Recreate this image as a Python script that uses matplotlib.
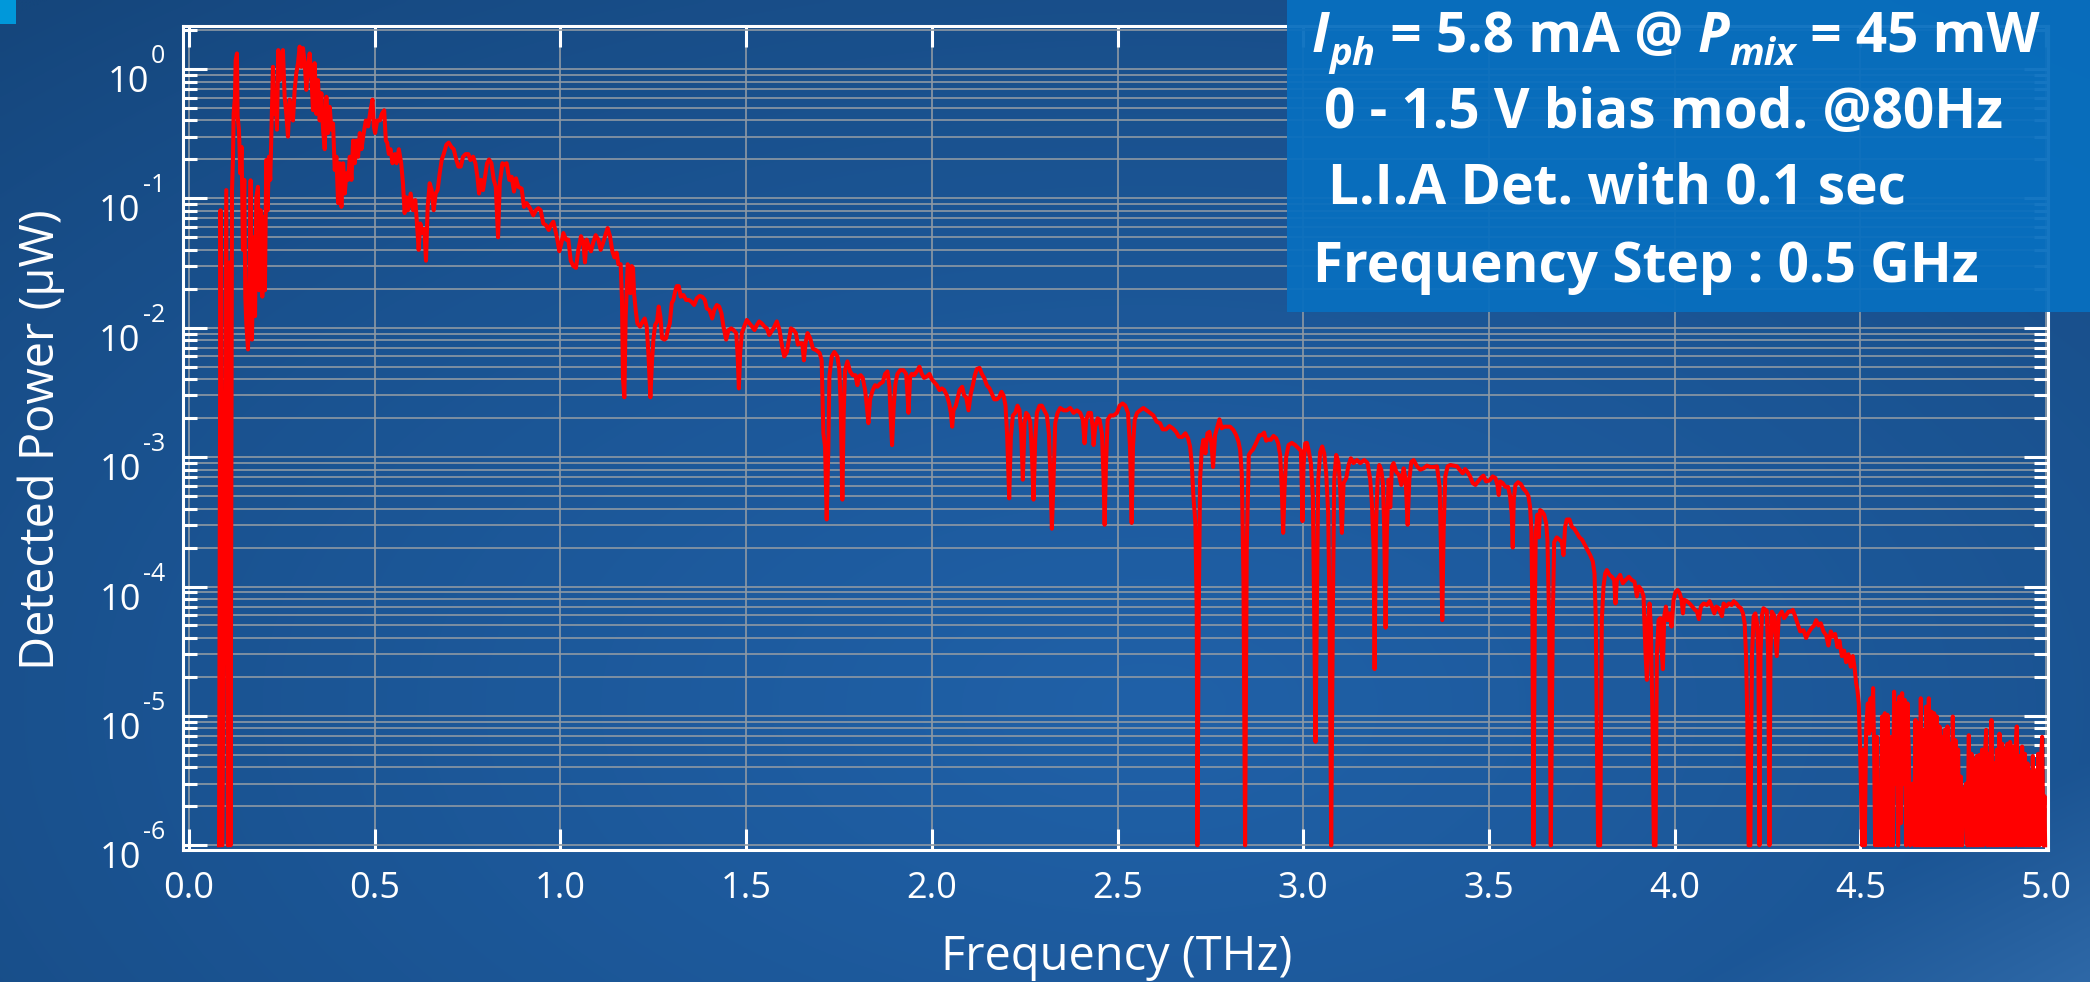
import numpy as np
import matplotlib
matplotlib.use("Agg")
import matplotlib.pyplot as plt
from matplotlib.ticker import LogLocator, FixedLocator, FuncFormatter, NullFormatter
from matplotlib.patches import Rectangle
from matplotlib.transforms import offset_copy
from matplotlib import font_manager

# ---------------- data: (frequency THz, detected power uW) ----------------
seg_low = [
(0.081, 1.0e-6), (0.085, 8.1e-2), (0.090, 1.0e-6), (0.1005, 1.16e-1), (0.105, 1.0e-6),
(0.1095, 3.2e-2), (0.112, 1.0e-6), (0.116, 1.16e-1), (0.1185, 2.0e-1), (0.1203, 4.5e-1),
(0.1239, 6.1e-1), (0.1257, 1.17), (0.1293, 1.32), (0.131, 4.3e-1), (0.1346, 3.4e-1),
(0.1382, 1.56e-1), (0.1418, 2.5e-1), (0.1454, 4.0e-2), (0.149, 1.39e-1), (0.1517, 1.74e-2),
(0.1544, 1.08e-2), (0.159, 6.8e-3), (0.1634, 3.2e-2), (0.166, 1.38e-1), (0.1697, 8.1e-3),
(0.174, 5.0e-2), (0.178, 1.23e-2), (0.1813, 1.02e-1), (0.1858, 1.23e-1), (0.1885, 1.95e-2),
(0.193, 8.1e-2), (0.1975, 1.74e-2), (0.201, 7.2e-2), (0.2046, 1.95e-2), (0.2082, 1.98e-1),
(0.2118, 8.1e-2), (0.2154, 2.1e-1), (0.219, 1.39e-1), (0.2226, 3.8e-1), (0.2262, 1.04),
(0.2298, 4.5e-1), (0.2334, 6.1e-1), (0.237, 3.4e-1), (0.2405, 1.40), (0.2441, 8.2e-1),
(0.2486, 1.17), (0.2531, 1.40), (0.2576, 6.1e-1), (0.2621, 4.5e-1), (0.2666, 3.0e-1),
(0.2711, 5.8e-1), (0.2756, 4.8e-1), (0.2801, 4.0e-1), (0.2846, 6.9e-1), (0.2891, 9.3e-1),
(0.2936, 1.11), (0.2981, 1.49), (0.3026, 1.04), (0.3071, 1.45), (0.3116, 1.11),
(0.316, 6.9e-1), (0.3205, 1.04), (0.325, 1.32), (0.3295, 8.7e-1), (0.334, 4.8e-1),
(0.3385, 1.11), (0.343, 4.5e-1), (0.3475, 8.2e-1), (0.352, 4.0e-1), (0.3565, 6.5e-1),
(0.361, 3.4e-1), (0.3655, 2.4e-1), (0.370, 6.1e-1), (0.3745, 3.2e-1), (0.379, 5.1e-1),
(0.3835, 3.4e-1), (0.388, 3.8e-1), (0.3925, 1.66e-1), (0.397, 2.1e-1), (0.4015, 9.2e-2),
(0.406, 1.87e-1), (0.4105, 8.6e-2), (0.415, 1.87e-1), (0.4195, 1.09e-1), (0.424, 1.56e-1),
(0.4285, 1.39e-1), (0.433, 2.1e-1), (0.4375, 1.39e-1), (0.442, 2.8e-1), (0.4465, 1.87e-1),
(0.451, 2.8e-1), (0.4555, 2.1e-1), (0.460, 3.2e-1), (0.4645, 2.4e-1), (0.469, 3.0e-1),
(0.4762, 4.0e-1), (0.4825, 3.6e-1), (0.4888, 4.8e-1), (0.4942, 5.8e-1), (0.4978, 3.6e-1),
(0.5013, 3.2e-1), (0.5067, 4.0e-1), (0.5139, 4.0e-1), (0.5193, 4.5e-1), (0.5256, 4.8e-1),
(0.5301, 2.8e-1), (0.5337, 2.7e-1), (0.5382, 2.2e-1), (0.5427, 2.4e-1), (0.548, 1.87e-1),
(0.5543, 2.2e-1), (0.5588, 1.87e-1), (0.5651, 2.4e-1), (0.5714, 1.87e-1), (0.5762, 1.31e-1),
(0.5807, 7.7e-2), (0.5852, 1.02e-1), (0.5897, 8.1e-2), (0.5969, 1.09e-1), (0.6031, 8.1e-2),
(0.6094, 9.7e-2), (0.6139, 6.4e-2), (0.6184, 4.0e-2), (0.6229, 6.4e-2), (0.6283, 5.4e-2),
(0.6337, 5.8e-2), (0.6382, 3.3e-2), (0.6427, 8.6e-2), (0.6481, 1.31e-1), (0.6535, 1.16e-1),
(0.6589, 8.1e-2), (0.6642, 1.09e-1), (0.6696, 1.16e-1), (0.675, 1.56e-1), (0.6804, 1.98e-1),
(0.6858, 2.2e-1), (0.693, 2.6e-1), (0.6993, 2.7e-1), (0.7065, 2.5e-1), (0.7128, 2.4e-1),
(0.720, 1.98e-1), (0.7254, 1.76e-1), (0.7317, 1.76e-1), (0.738, 2.1e-1), (0.7451, 2.2e-1),
(0.7523, 2.2e-1), (0.7577, 1.98e-1), (0.7649, 2.1e-1), (0.7712, 1.87e-1), (0.7766, 1.47e-1),
(0.7811, 1.09e-1), (0.7865, 1.39e-1), (0.7918, 1.16e-1), (0.7972, 1.47e-1), (0.8026, 1.87e-1),
(0.808, 2.0e-1), (0.8143, 1.87e-1), (0.8206, 1.39e-1), (0.826, 1.23e-1), (0.8322, 5.0e-2),
(0.8368, 1.31e-1), (0.844, 1.87e-1),
]

seg_mid1 = [
(0.8464, 1.81e-1), (0.8553, 1.87e-1), (0.8625, 1.39e-1), (0.8688, 1.47e-1), (0.8751, 1.13e-1),
(0.8805, 1.43e-1), (0.8867, 1.23e-1), (0.8957, 1.19e-1), (0.902, 8.6e-2), (0.9092, 9.2e-2),
(0.9182, 8.4e-2), (0.9271, 7.4e-2), (0.9343, 8.1e-2), (0.9406, 8.4e-2), (0.9469, 8.1e-2),
(0.954, 6.4e-2), (0.9613, 6.2e-2), (0.9685, 5.7e-2), (0.9739, 6.2e-2), (0.981, 6.6e-2),
(0.9882, 5.4e-2), (0.9918, 4.8e-2), (0.9972, 3.9e-2), (1.0026, 4.5e-2), (1.008, 5.4e-2),
(1.0152, 4.8e-2), (1.0215, 4.8e-2), (1.0278, 3.3e-2), (1.0348, 3.0e-2), (1.042, 2.9e-2),
(1.0483, 4.0e-2), (1.0555, 5.1e-2), (1.0617, 4.5e-2), (1.0662, 3.2e-2), (1.0707, 4.8e-2),
(1.077, 4.2e-2), (1.0824, 3.9e-2), (1.0887, 4.6e-2), (1.095, 5.2e-2), (1.1023, 4.8e-2),
(1.1085, 4.0e-2), (1.1156, 4.6e-2), (1.1228, 5.4e-2), (1.1273, 5.9e-2), (1.1336, 5.1e-2),
(1.1399, 3.9e-2), (1.1453, 3.5e-2), (1.1515, 3.8e-2), (1.156, 3.1e-2), (1.1623, 3.1e-2),
(1.1659, 1.64e-2), (1.1686, 4.0e-3), (1.1722, 2.9e-3), (1.1758, 1.22e-2), (1.1812, 3.1e-2),
(1.1848, 2.8e-2), (1.1884, 1.85e-2), (1.192, 3.0e-2), (1.1956, 2.9e-2), (1.1983, 1.85e-2),
(1.2028, 1.37e-2), (1.2073, 1.08e-2), (1.2145, 1.02e-2), (1.2216, 1.12e-2), (1.227, 1.18e-2),
(1.2324, 1.02e-2), (1.2369, 6.4e-3), (1.2423, 2.9e-3), (1.2468, 5.6e-3), (1.2504, 8.1e-3),
(1.2549, 1.05e-2), (1.2603, 1.12e-2), (1.2648, 1.46e-2), (1.2693, 1.22e-2), (1.2738, 8.3e-3),
(1.2801, 8.1e-3), (1.2846, 8.3e-3), (1.2891, 9.6e-3), (1.2945, 1.08e-2), (1.2998, 1.55e-2),
(1.3043, 1.64e-2), (1.3088, 1.90e-2), (1.3133, 2.1e-2), (1.3187, 2.1e-2), (1.3241, 1.74e-2),
(1.3313, 1.79e-2), (1.3385, 1.64e-2), (1.3457, 1.64e-2), (1.3529, 1.59e-2), (1.3601, 1.50e-2),
(1.3673, 1.69e-2), (1.3745, 1.76e-2), (1.3816, 1.74e-2), (1.3888, 1.64e-2), (1.3942, 1.41e-2),
(1.4014, 1.37e-2), (1.4086, 1.18e-2), (1.414, 1.37e-2), (1.4212, 1.50e-2), (1.4275, 1.46e-2),
(1.4337, 1.29e-2), (1.4391, 1.02e-2), (1.4463, 8.1e-3), (1.4526, 9.6e-3), (1.4598, 9.9e-3),
(1.4661, 9.6e-3), (1.4733, 9.1e-3), (1.4769, 6.4e-3), (1.4805, 3.4e-3), (1.4841, 6.4e-3),
(1.4886, 9.1e-3), (1.4948, 1.02e-2), (1.502, 1.15e-2), (1.5092, 1.08e-2), (1.5164, 1.02e-2),
(1.5226, 9.6e-3), (1.5289, 1.05e-2), (1.5352, 1.12e-2), (1.5424, 1.08e-2), (1.5496, 1.02e-2),
(1.5559, 9.9e-3), (1.5622, 8.8e-3), (1.5676, 9.3e-3), (1.5738, 9.9e-3), (1.5828, 1.12e-2),
(1.590, 9.6e-3), (1.5972, 7.1e-3), (1.6026, 6.0e-3), (1.6098, 6.5e-3), (1.6152, 8.1e-3),
(1.6205, 9.9e-3), (1.6277, 9.6e-3), (1.634, 9.1e-3), (1.6394, 7.4e-3), (1.6457, 7.6e-3),
(1.6511, 7.6e-3), (1.6556, 5.6e-3), (1.660, 7.6e-3), (1.6654, 9.1e-3), (1.6726, 8.3e-3),
(1.6798, 6.9e-3), (1.6888, 6.7e-3), (1.6978, 6.4e-3),
]

seg_mid2 = [
(1.7035, 5.6e-3), (1.708, 1.53e-3), (1.7125, 1.21e-3), (1.717, 3.3e-4), (1.7215, 1.21e-3),
(1.7242, 4.2e-3), (1.7305, 6.0e-3), (1.7376, 6.5e-3), (1.7457, 6.0e-3), (1.7511, 4.7e-3),
(1.7547, 2.5e-3), (1.7592, 4.7e-4), (1.7628, 2.2e-3), (1.7664, 4.7e-3), (1.7727, 5.5e-3),
(1.7799, 4.6e-3), (1.787, 4.3e-3), (1.7942, 4.3e-3), (1.7996, 3.6e-3), (1.8032, 4.2e-3),
(1.8086, 4.3e-3), (1.814, 4.1e-3), (1.8203, 3.3e-3), (1.8248, 2.5e-3), (1.8293, 1.83e-3),
(1.8338, 2.8e-3), (1.841, 3.3e-3), (1.8473, 3.6e-3), (1.8535, 3.5e-3), (1.8607, 3.7e-3),
(1.8679, 3.8e-3), (1.8742, 4.4e-3), (1.8805, 4.6e-3), (1.8859, 3.5e-3), (1.8895, 1.94e-3),
(1.893, 1.24e-3), (1.8975, 2.5e-3), (1.902, 3.7e-3), (1.9074, 4.4e-3), (1.9146, 4.7e-3),
(1.9236, 4.7e-3), (1.9308, 4.4e-3), (1.9344, 3.1e-3), (1.9371, 2.2e-3), (1.9416, 4.2e-3),
(1.9461, 4.4e-3), (1.9524, 4.3e-3), (1.9595, 4.6e-3), (1.9667, 5.0e-3), (1.973, 4.4e-3),
(1.9793, 4.1e-3), (1.9865, 4.2e-3), (1.9937, 4.4e-3), (2.000, 4.0e-3), (2.0063, 3.8e-3),
(2.0135, 3.6e-3), (2.0207, 3.3e-3), (2.027, 3.4e-3), (2.0333, 3.3e-3), (2.0404, 3.0e-3),
(2.0467, 2.6e-3), (2.0512, 2.2e-3), (2.0548, 1.72e-3), (2.0584, 2.3e-3), (2.0647, 2.5e-3),
(2.0701, 2.9e-3), (2.0746, 3.3e-3), (2.0817, 3.5e-3), (2.0871, 3.0e-3), (2.0925, 2.9e-3),
(2.0987, 2.3e-3), (2.105, 3.1e-3), (2.1104, 3.6e-3), (2.1158, 4.3e-3), (2.1212, 4.8e-3),
(2.1284, 4.9e-3), (2.1347, 4.4e-3), (2.1409, 4.1e-3), (2.1481, 3.6e-3), (2.1553, 3.4e-3),
(2.1616, 3.1e-3), (2.1679, 2.8e-3), (2.1751, 2.8e-3), (2.1814, 2.9e-3), (2.1876, 3.2e-3),
(2.193, 3.0e-3), (2.1984, 2.5e-3), (2.2029, 1.44e-3), (2.2083, 4.8e-4), (2.2128, 1.44e-3),
(2.2182, 2.1e-3), (2.2245, 2.2e-3), (2.2307, 2.5e-3), (2.2361, 2.3e-3), (2.2406, 1.53e-3),
(2.2451, 6.7e-4), (2.2496, 1.83e-3), (2.2541, 2.2e-3), (2.2595, 2.1e-3), (2.2649, 1.88e-3),
(2.2694, 1.07e-3), (2.2738, 4.7e-4), (2.2783, 1.36e-3), (2.2828, 2.2e-3), (2.290, 2.5e-3),
(2.2963, 2.5e-3), (2.3026, 2.3e-3), (2.3098, 2.1e-3), (2.3152, 1.53e-3), (2.3196, 6.7e-4),
(2.3232, 2.8e-4), (2.3277, 6.7e-4), (2.3322, 1.83e-3), (2.3385, 2.2e-3), (2.3457, 2.4e-3),
(2.3547, 2.3e-3), (2.3636, 2.3e-3), (2.3726, 2.4e-3), (2.3816, 2.2e-3), (2.3906, 2.3e-3),
(2.3995, 2.2e-3), (2.4067, 1.94e-3), (2.4112, 1.28e-3), (2.4157, 1.94e-3), (2.422, 2.2e-3),
(2.4283, 2.2e-3), (2.4328, 1.72e-3), (2.4355, 1.24e-3), (2.440, 1.72e-3), (2.4463, 2.0e-3),
(2.4517, 1.94e-3), (2.458, 1.53e-3), (2.4625, 6.7e-4), (2.4652, 3.0e-4), (2.4688, 8.5e-4),
(2.4733, 1.94e-3), (2.4805, 2.1e-3), (2.4895, 2.1e-3), (2.4984, 2.2e-3), (2.5056, 2.5e-3),
(2.5137, 2.6e-3), (2.5209, 2.5e-3), (2.5281, 2.2e-3), (2.5335, 1.21e-3), (2.538, 3.1e-4),
(2.5416, 1.21e-3), (2.5461, 1.94e-3), (2.5524, 2.2e-3),
]

seg_high1 = [
(2.5606, 2.3e-3), (2.5695, 2.4e-3), (2.5785, 2.3e-3), (2.5875, 2.2e-3), (2.5965, 2.1e-3),
(2.6054, 1.88e-3), (2.6144, 1.83e-3), (2.6216, 1.64e-3), (2.6306, 1.64e-3), (2.6395, 1.74e-3),
(2.6485, 1.67e-3), (2.6575, 1.57e-3), (2.6647, 1.44e-3), (2.6736, 1.43e-3), (2.6826, 1.53e-3),
(2.6898, 1.40e-3), (2.6952, 1.21e-3), (2.6997, 9.0e-4), (2.7042, 5.0e-4), (2.7096, 3.1e-4),
(2.7132, 6.2e-5), (2.715, 1.0e-6), (2.7186, 6.3e-5), (2.7222, 6.7e-4), (2.7267, 1.14e-3),
(2.7312, 1.36e-3), (2.7366, 1.07e-3), (2.742, 1.53e-3), (2.7474, 1.57e-3), (2.7527, 1.28e-3),
(2.7572, 8.4e-4), (2.7626, 1.48e-3), (2.7689, 1.72e-3), (2.7743, 1.96e-3), (2.7806, 1.67e-3),
(2.7869, 1.72e-3), (2.7941, 1.72e-3), (2.803, 1.72e-3), (2.812, 1.62e-3), (2.8192, 1.48e-3),
(2.8255, 1.32e-3), (2.830, 1.14e-3), (2.8345, 7.5e-4), (2.839, 1.12e-4), (2.8434, 1.0e-6),
(2.8479, 2.0e-4), (2.8533, 1.04e-3), (2.8587, 1.10e-3), (2.8641, 1.14e-3), (2.8704, 1.24e-3),
(2.8767, 1.36e-3), (2.8821, 1.48e-3), (2.8883, 1.48e-3), (2.8946, 1.55e-3), (2.900, 1.34e-3),
(2.9063, 1.37e-3), (2.9126, 1.36e-3), (2.9198, 1.46e-3), (2.927, 1.40e-3), (2.9324, 1.28e-3),
(2.9378, 1.04e-3), (2.9423, 5.6e-4), (2.9459, 2.6e-4), (2.9495, 5.6e-4), (2.954, 1.0e-3),
(2.9603, 1.24e-3), (2.9693, 1.29e-3), (2.9782, 1.24e-3), (2.9872, 1.17e-3), (2.9935, 1.12e-3),
(2.9962, 5.6e-4), (2.998, 3.2e-4), (3.0007, 8.5e-4), (3.0052, 1.28e-3), (3.0097, 1.29e-3),
(3.0142, 1.14e-3), (3.0205, 9.0e-4), (3.0258, 5.0e-4), (3.0294, 6.2e-5), (3.033, 6.3e-6),
(3.0366, 6.2e-5), (3.0402, 6.7e-4), (3.0456, 1.10e-3), (3.051, 1.21e-3), (3.0564, 1.07e-3),
(3.0617, 7.5e-4), (3.0671, 3.7e-4), (3.0707, 6.2e-5), (3.0752, 1.0e-6), (3.0797, 6.3e-5),
(3.0833, 6.7e-4), (3.0887, 1.04e-3), (3.095, 9.0e-4), (3.0995, 5.6e-4), (3.104, 2.6e-4),
(3.1085, 6.3e-4), (3.1157, 6.9e-4), (3.1219, 8.7e-4), (3.1282, 9.8e-4), (3.1354, 9.0e-4),
(3.1444, 9.5e-4), (3.1534, 9.0e-4), (3.1641, 9.5e-4), (3.1731, 9.0e-4), (3.1803, 6.7e-4),
(3.1848, 4.4e-4), (3.1893, 2.0e-4), (3.192, 2.3e-5), (3.1956, 2.7e-4), (3.2001, 6.7e-4),
(3.2046, 8.7e-4), (3.210, 8.0e-4), (3.2145, 6.3e-4), (3.218, 2.7e-4), (3.2216, 4.8e-5),
(3.2252, 2.7e-4), (3.2297, 6.7e-4), (3.2342, 4.1e-4), (3.2387, 8.5e-4), (3.2432, 9.0e-4),
(3.2504, 7.7e-4), (3.2576, 7.3e-4), (3.2639, 6.1e-4), (3.2702, 8.2e-4), (3.2756, 6.7e-4),
(3.281, 3.0e-4), (3.2855, 6.7e-4), (3.2908, 9.2e-4), (3.2971, 9.5e-4), (3.3061, 8.5e-4),
(3.3151, 8.0e-4), (3.3241, 8.2e-4), (3.333, 8.6e-4), (3.342, 8.4e-4), (3.351, 8.4e-4),
(3.360, 8.5e-4), (3.3671, 5.9e-4), (3.3707, 2.0e-4), (3.3743, 5.5e-5), (3.3779, 2.7e-4),
(3.3824, 7.1e-4), (3.3887, 8.5e-4), (3.3959, 8.7e-4), (3.4048, 8.6e-4), (3.4138, 8.5e-4),
(3.421, 8.0e-4),
]

seg_high2 = [
(3.4293, 7.5e-4), (3.4356, 8.1e-4), (3.4419, 7.7e-4), (3.4491, 7.1e-4), (3.4563, 6.3e-4),
(3.4635, 6.1e-4), (3.4706, 6.5e-4), (3.4778, 6.9e-4), (3.485, 7.2e-4), (3.4922, 6.5e-4),
(3.5011, 6.6e-4), (3.5101, 7.1e-4), (3.5173, 6.9e-4), (3.5227, 6.1e-4), (3.5263, 5.1e-4),
(3.5299, 6.5e-4), (3.537, 6.3e-4), (3.5442, 5.9e-4), (3.5514, 5.9e-4), (3.5568, 5.0e-4),
(3.5613, 3.6e-4), (3.564, 2.0e-4), (3.5667, 4.7e-4), (3.5712, 6.1e-4), (3.5783, 6.4e-4),
(3.5855, 6.2e-4), (3.5927, 5.7e-4), (3.5999, 5.4e-4), (3.6062, 5.0e-4), (3.6107, 4.1e-4),
(3.6143, 2.7e-4), (3.617, 5.5e-5), (3.6197, 1.0e-6), (3.6233, 5.5e-5), (3.626, 2.6e-4),
(3.6304, 3.6e-4), (3.634, 2.4e-4), (3.6376, 3.9e-4), (3.643, 3.8e-4), (3.6484, 3.6e-4),
(3.6538, 3.1e-4), (3.6574, 2.3e-4), (3.6619, 5.5e-5), (3.6664, 1.0e-6), (3.6718, 5.5e-5),
(3.6754, 2.2e-4), (3.6826, 2.4e-4), (3.6897, 2.3e-4), (3.696, 2.2e-4), (3.7005, 1.75e-4),
(3.705, 2.9e-4), (3.7095, 3.3e-4), (3.7167, 3.3e-4), (3.723, 2.9e-4), (3.7293, 2.8e-4),
(3.7365, 2.6e-4), (3.7436, 2.4e-4), (3.7508, 2.3e-4), (3.758, 2.1e-4), (3.7652, 1.91e-4),
(3.7724, 1.75e-4), (3.7796, 1.56e-4), (3.7841, 1.26e-4), (3.7876, 5.5e-5), (3.7903, 7.3e-6),
(3.7939, 1.0e-6), (3.7993, 1.0e-6), (3.8038, 5.5e-5), (3.8083, 1.0e-4), (3.8128, 1.26e-4),
(3.8173, 1.34e-4), (3.8245, 1.23e-4), (3.8308, 1.19e-4), (3.837, 1.12e-4), (3.8406, 7.4e-5),
(3.8442, 1.12e-4), (3.8532, 1.23e-4), (3.8604, 1.06e-4), (3.8676, 1.12e-4), (3.8766, 1.19e-4),
(3.8846, 1.12e-4), (3.8918, 1.09e-4), (3.8981, 8.4e-5), (3.9035, 1.0e-4), (3.9107, 9.4e-5),
(3.9161, 8.4e-5), (3.9215, 3.0e-5), (3.9251, 1.9e-5), (3.9287, 5.5e-5), (3.9323, 7.4e-5),
(3.9358, 4.9e-5), (3.9403, 9.3e-6), (3.9439, 1.0e-6), (3.9484, 1.0e-6), (3.952, 3.0e-5),
(3.9565, 5.5e-5), (3.961, 5.7e-5), (3.9655, 3.0e-5), (3.9682, 2.3e-5), (3.9718, 5.9e-5),
(3.9763, 7.0e-5), (3.9808, 5.5e-5), (3.9862, 6.2e-5), (3.9916, 4.9e-5), (3.9969, 7.9e-5),
(4.0023, 9.1e-5), (4.0077, 9.4e-5), (4.0131, 8.9e-5), (4.0185, 7.9e-5), (4.0221, 6.2e-5),
(4.0257, 7.9e-5), (4.0329, 7.7e-5), (4.0401, 7.4e-5), (4.0473, 7.0e-5), (4.0545, 6.6e-5),
(4.0599, 6.4e-5), (4.0652, 5.6e-5), (4.0706, 7.0e-5), (4.0778, 7.4e-5), (4.0868, 7.2e-5),
(4.094, 7.7e-5), (4.1003, 7.0e-5), (4.1066, 6.2e-5), (4.112, 7.0e-5), (4.1183, 6.8e-5),
(4.1272, 5.9e-5), (4.1317, 7.4e-5), (4.1389, 7.0e-5), (4.1461, 7.4e-5), (4.1533, 7.2e-5),
(4.1587, 7.7e-5), (4.1659, 7.4e-5), (4.1722, 7.0e-5), (4.1784, 6.8e-5), (4.1838, 6.2e-5),
(4.1883, 5.2e-5), (4.1919, 3.0e-5), (4.1955, 9.3e-6), (4.1991, 1.0e-6), (4.2036, 1.0e-6),
(4.2081, 3.0e-5), (4.2126, 5.9e-5), (4.2171, 6.2e-5), (4.2216, 5.2e-5), (4.2252, 3.0e-5),
(4.2282, 1.0e-6), (4.2310, 3.0e-5), (4.2350, 6.0e-5), (4.2389, 6.8e-5), (4.2479, 6.5e-5),
(4.2515, 3.0e-5), (4.2551, 1.0e-6), (4.2578, 3.0e-5), (4.2614, 6.4e-5), (4.2676, 6.0e-5),
(4.2748, 2.9e-5), (4.2802, 5.9e-5), (4.2883, 6.4e-5), (4.2946, 5.7e-5), (4.300, 6.0e-5),
(4.3063, 6.4e-5), (4.3125, 6.4e-5), (4.3179, 6.6e-5), (4.3242, 5.9e-5), (4.3305, 5.2e-5),
(4.3377, 4.5e-5), (4.3466, 4.6e-5), (4.3538, 4.0e-5), (4.3601, 4.4e-5), (4.3691, 4.8e-5),
(4.3754, 5.0e-5), (4.3807, 5.5e-5), (4.387, 5.0e-5), (4.3933, 5.2e-5), (4.4005, 4.5e-5),
(4.4077, 4.2e-5), (4.4139, 3.5e-5), (4.4202, 4.5e-5), (4.4256, 4.1e-5), (4.4319, 4.3e-5),
(4.4382, 3.4e-5), (4.4436, 3.8e-5), (4.4498, 2.9e-5), (4.4561, 3.2e-5), (4.4615, 2.6e-5),
(4.4678, 3.0e-5), (4.4741, 2.4e-5), (4.4795, 2.9e-5), (4.484, 2.4e-5), (4.4884, 1.8e-5),
(4.492, 1.58e-5), (4.4956, 1.25e-5), (4.4992, 5.5e-6),
]

seg_tail = [
(4.5019, 2.4e-6), (4.5046, 1.0e-6), (4.5082, 5.5e-6), (4.5117, 1.0e-6), (4.5153, 7.8e-6),
(4.5198, 1.25e-5), (4.5234, 7.3e-6), (4.527, 1.37e-5), (4.5306, 7.8e-6), (4.5342, 1.64e-5),
(4.5369, 5.5e-6), (4.5396, 1.0e-6), (4.5441, 6.9e-6), (4.5477, 1.0e-6), (4.5513, 1.9e-6),
(4.5549, 1.0e-6), (4.5584, 9.9e-6), (4.562, 1.0e-6), (4.5656, 1.05e-5), (4.5692, 1.0e-6),
(4.5728, 1.02e-5), (4.5764, 3.8e-6), (4.580, 1.0e-6), (4.5836, 6.9e-6), (4.5872, 1.0e-6),
(4.5907, 1.54e-5), (4.5943, 3.0e-6), (4.5979, 1.25e-5), (4.6015, 1.0e-6), (4.6051, 1.41e-5),
(4.6087, 1.48e-6), (4.6123, 1.5e-5), (4.6159, 3.0e-6), (4.6195, 1.33e-5), (4.6231, 1.0e-6),
(4.6267, 1.25e-5), (4.6302, 5.5e-6), (4.6338, 1.0e-6), (4.641, 3.0e-6), (4.6446, 1.0e-6),
(4.6482, 9.3e-6), (4.6518, 1.0e-6), (4.6554, 8.8e-6), (4.659, 1.0e-6), (4.6625, 1.37e-5),
(4.6661, 1.0e-6), (4.6697, 7.8e-6), (4.6733, 1.0e-6), (4.6769, 1.18e-5), (4.6805, 1.0e-6),
(4.6841, 1.37e-5), (4.6877, 1.0e-6), (4.6913, 1.08e-5), (4.6949, 1.0e-6), (4.6985, 1.05e-5),
(4.702, 1.0e-6), (4.7056, 9.9e-6), (4.7092, 1.0e-6), (4.7128, 8.3e-6), (4.7164, 1.0e-6),
(4.720, 6.9e-6), (4.7236, 1.0e-6), (4.7272, 7.8e-6), (4.7308, 1.0e-6), (4.7344, 8.3e-6),
(4.738, 1.0e-6), (4.7415, 6.1e-6), (4.7451, 1.0e-6), (4.7487, 9.9e-6), (4.7523, 1.0e-6),
(4.7559, 6.5e-6), (4.7595, 1.0e-6), (4.7631, 5.5e-6), (4.7667, 1.0e-6), (4.7703, 3.4e-6),
(4.7739, 1.0e-6), (4.781, 2.7e-6), (4.7846, 3.0e-6), (4.7882, 1.0e-6), (4.7918, 7.1e-6),
(4.7954, 1.0e-6), (4.799, 5.1e-6), (4.8026, 1.0e-6), (4.8062, 4.6e-6), (4.8098, 1.0e-6),
(4.8133, 4.9e-6), (4.8169, 1.0e-6), (4.8205, 5.0e-6), (4.8241, 1.0e-6), (4.8277, 5.5e-6),
(4.8313, 1.0e-6), (4.8349, 4.7e-6), (4.8385, 7.8e-6), (4.8421, 1.0e-6), (4.8457, 5.1e-6),
(4.8493, 1.0e-6), (4.8528, 9.3e-6), (4.8564, 1.0e-6), (4.860, 4.3e-6), (4.8636, 1.0e-6),
(4.8672, 5.5e-6), (4.8708, 1.0e-6), (4.8744, 7.3e-6), (4.878, 1.0e-6), (4.8816, 6.1e-6),
(4.8851, 1.0e-6), (4.8887, 5.5e-6), (4.8923, 1.0e-6), (4.8959, 6.1e-6), (4.8995, 1.0e-6),
(4.9031, 6.3e-6), (4.9067, 1.0e-6), (4.9103, 5.8e-6), (4.9139, 1.0e-6), (4.9175, 5.5e-6),
(4.921, 8.3e-6), (4.9246, 1.0e-6), (4.9282, 4.9e-6), (4.9318, 1.0e-6), (4.9354, 5.8e-6),
(4.939, 1.0e-6), (4.9426, 5.1e-6), (4.9462, 1.0e-6), (4.9498, 4.3e-6), (4.9534, 1.0e-6),
(4.957, 3.7e-6), (4.9605, 1.0e-6), (4.9641, 4.9e-6), (4.9677, 1.0e-6), (4.9713, 3.8e-6),
(4.9749, 1.0e-6), (4.9785, 5.1e-6), (4.9821, 1.0e-6), (4.9857, 4.3e-6), (4.9893, 6.9e-6),
(4.9928, 1.0e-6), (4.9955, 2.4e-6), (4.9973, 1.0e-6),
]

x_ticks = [0.0, 0.5, 1.0, 1.5, 2.0, 2.5, 3.0, 3.5, 4.0, 4.5, 5.0]
y_decades = [-6, -5, -4, -3, -2, -1, 0]
x_label = "Frequency (THz)"
y_label = "Detected Power (\u03bcW)"
info_lines = ["0 - 1.5 V bias mod. @80Hz", "L.I.A Det. with 0.1 sec", "Frequency Step : 0.5 GHz"]

# ---------------- style ----------------
plt.rcParams['font.family'] = ['Lato', 'DejaVu Sans']

W, H = 2090, 982
fig = plt.figure(figsize=(W / 100, H / 100), dpi=100)
renderer = fig.canvas.get_renderer()

try:
    font_manager.findfont(font_manager.FontProperties(family='Open Sans', weight='bold'),
                          fallback_to_default=False)
    BOX_FAM = 'Open Sans'
except Exception:
    BOX_FAM = 'Lato'
try:
    pi = font_manager.findfont(font_manager.FontProperties(family=BOX_FAM, style='italic', weight='bold'),
                               fallback_to_default=False)
    ITAL_FAM = BOX_FAM if 'talic' in pi else 'Lato'
except Exception:
    ITAL_FAM = 'Lato'
TICK_FAM = BOX_FAM

# background gradient
bg = fig.add_axes([0, 0, 1, 1], zorder=-10)
gy, gx = np.mgrid[0:1:246j, 0:1:523j]
d = np.sqrt(((gx - 0.55) / 0.8) ** 2 + ((gy - 0.72) / 0.95) ** 2)
t = np.clip(1 - d, 0, 1) ** 0.8
dark = np.array([21, 70, 124]) / 255
light = np.array([32, 97, 168]) / 255
img = dark + (light - dark) * t[..., None]
streak = np.clip((gx * 0.55 + gy * 0.45 - 0.90) / 0.10, 0, 1)
img = img + (np.array([62, 122, 186]) / 255 - img) * (0.55 * streak[..., None])
bg.imshow(img, aspect='auto', extent=[0, 1, 0, 1], origin='upper', interpolation='bicubic')
bg.axis('off')

# main axes
L, R, T, B = 183, 2048, 26, 850
ax = fig.add_axes([L / W, 1 - B / H, (R - L) / W, (B - T) / H])
ax.patch.set_alpha(0)
ax.set_yscale('log')
ax.set_xlim(-0.016, 5.005)
ax.set_ylim(9.2e-7, 2.15)

freq = []
power = []
for seg in (seg_low, seg_mid1, seg_mid2, seg_high1, seg_high2, seg_tail):
    for f, p in seg:
        freq.append(f)
        power.append(p)
ax.plot(freq, power, color='#ff0000', lw=2.9, zorder=3)

ax.xaxis.set_major_locator(FixedLocator(x_ticks))
ax.xaxis.set_major_formatter(FuncFormatter(lambda v, pos: "%.1f" % v))
ax.yaxis.set_major_locator(FixedLocator([10.0 ** k for k in y_decades]))
ax.yaxis.set_minor_locator(LogLocator(base=10, subs=np.arange(2, 10), numticks=30))
ax.yaxis.set_minor_formatter(NullFormatter())
ax.yaxis.set_major_formatter(NullFormatter())

ax.tick_params(axis='x', which='major', direction='in', length=15, width=2.2,
               top=True, bottom=True, color='white', labelcolor='white',
               labelsize=26, pad=15, labelfontfamily=TICK_FAM)
ax.tick_params(axis='y', which='major', direction='in', length=17, width=2.2,
               left=True, right=True, color='white')
ax.tick_params(axis='y', which='minor', direction='in', length=10, width=2.2,
               left=True, right=True, color='white')
ax.set_axisbelow(True)
ax.grid(True, axis='x', which='major', color='#8e99a4', lw=1.2)
ax.grid(True, axis='y', which='both', color='#8e99a4', lw=1.2)
for s in ax.spines.values():
    s.set_color('white')
    s.set_linewidth(2.2)

# y tick labels: "10" with a raised exponent
ytrans = ax.get_yaxis_transform()
exp_right = (165 - L) / (R - L)
for k in y_decades:
    v = 10.0 ** k
    te = ax.text(exp_right, v, "%d" % k, transform=offset_copy(ytrans, fig, x=0, y=6, units='dots'),
                 ha='right', va='baseline', fontsize=18, family=TICK_FAM, color='white',
                 clip_on=False)
    bb = te.get_window_extent(renderer)
    base_right_px = bb.x0 - 2
    ax.text((base_right_px - L) / (R - L), v, "10",
            transform=offset_copy(ytrans, fig, x=0, y=-23, units='dots'),
            ha='right', va='baseline', fontsize=26, family=TICK_FAM, color='white',
            clip_on=False)


def fit_size(s, target, fam, weight='normal', rot=0, base=30):
    tt = fig.text(0, 0, s, fontsize=base, family=fam, fontweight=weight, rotation=rot)
    bb = tt.get_window_extent(renderer)
    tt.remove()
    ext = bb.height if rot else bb.width
    return base * target / ext


LAB_FAM = BOX_FAM
sx = fit_size(x_label, 348, LAB_FAM)
sy = fit_size(y_label, 464, LAB_FAM, rot=90)
lab_size = 0.5 * (sx + sy)
fig.text(1117 / W, 1 - 957 / H, x_label, ha='center', va='center',
         fontsize=lab_size, family=LAB_FAM, color='white')
fig.text(41 / W, 1 - 440 / H, y_label, ha='center', va='center', rotation=90,
         fontsize=lab_size, family=LAB_FAM, color='white')

# corner accent
fig.add_artist(Rectangle((0, 1 - 24 / H), 16 / W, 24 / H, transform=fig.transFigure,
                         facecolor='#0098da', edgecolor='none', zorder=5))

# info box
fig.add_artist(Rectangle((1287 / W, 1 - 312 / H), (W - 1287) / W, 312 / H,
                         transform=fig.transFigure, facecolor='#086fbf',
                         edgecolor='none', alpha=0.95, zorder=10))


def line1_pieces(fs):
    return [("I", ITAL_FAM, 'italic', fs, 0), ("ph", ITAL_FAM, 'italic', fs * 0.7, 13),
            (" = 5.8 mA @ ", BOX_FAM, 'normal', fs, 0), ("P", ITAL_FAM, 'italic', fs, 0),
            ("mix", ITAL_FAM, 'italic', fs * 0.7, 13), (" = 45 mW", BOX_FAM, 'normal', fs, 0)]


def runs(x0, base, pieces, draw=True):
    x = x0
    made = []
    for s, fam, style, size, dy in pieces:
        tt = fig.text(x / W, 1 - (base + dy) / H, s, fontsize=size, fontweight='bold',
                      family=fam, fontstyle=style, color='white', ha='left',
                      va='baseline', zorder=12)
        bb = tt.get_window_extent(renderer)
        x = bb.x1
        made.append(tt)
    if not draw:
        for tt in made:
            tt.remove()
    return x - x0


scales = [740.0 / runs(0, 500, line1_pieces(30), draw=False)]
for s, target in zip(info_lines, [689, 568, 658]):
    tt = fig.text(0, 0, s, fontsize=30, fontweight='bold', family=BOX_FAM)
    scales.append(target / tt.get_window_extent(renderer).width)
    tt.remove()
FS = 30 * float(np.mean(scales))

runs(1312, 52, line1_pieces(FS))
for (x0, base), s in zip([(1324, 128), (1328, 204), (1313, 282)], info_lines):
    fig.text(x0 / W, 1 - base / H, s, fontsize=FS, fontweight='bold', family=BOX_FAM,
             color='white', ha='left', va='baseline', zorder=12)

fig.savefig('out.png', dpi=100)
